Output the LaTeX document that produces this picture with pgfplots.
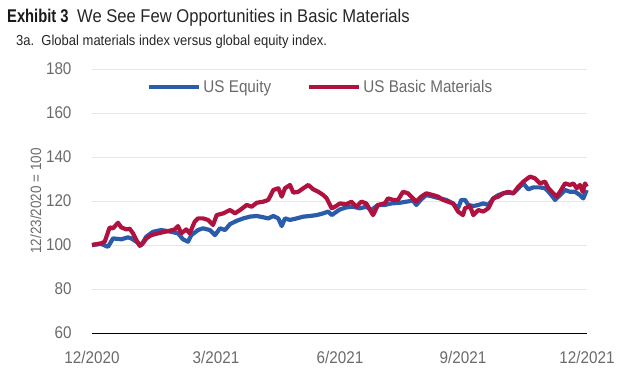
\documentclass[border=0pt]{standalone}
\usepackage{fontspec}
\setmainfont{Liberation Sans}[FakeStretch=0.9]
\newfontfamily\titlebold{Liberation Sans}[FakeStretch=0.8]
\usepackage{pgfplots}
\pgfplotsset{compat=1.18}
\definecolor{eqblue}{HTML}{2A5CAA}
\definecolor{matred}{HTML}{B0123F}
\definecolor{txtgray}{HTML}{6A6A6A}
\definecolor{gridgray}{HTML}{E6E6E6}
\begin{document}
\begin{tikzpicture}[x=1bp,y=1bp]
\useasboundingbox (0,0) rectangle (640,-386);
\node[anchor=base west,inner sep=0,font=\fontsize{18.5}{20}\selectfont\titlebold\bfseries,text=black!90] at (7,-22) {Exhibit 3};
\node[anchor=base west,inner sep=0,font=\fontsize{18.5}{20}\selectfont,text=black!85] at (77,-22) {We See Few Opportunities in Basic Materials};
\node[anchor=base west,inner sep=0,font=\fontsize{14.5}{16}\selectfont,text=black!85] at (16,-45) {3a.\ \ Global materials index versus global equity index.};
\begin{axis}[
  at={(92bp,-333bp)}, anchor=south west,
  scale only axis, width=495bp, height=264bp,
  xmin=0, xmax=495, ymin=60, ymax=180,
  axis line style={draw=none},
  axis x line*=bottom,
  ytick={60,80,...,180},
  xtick={0,124,248,371,495},
  xticklabels={12/2020,3/2021,6/2021,9/2021,12/2021},
  major tick length=0pt,
  ymajorgrids, grid style={gridgray, line width=0.8bp},
  /pgf/number format/assume math mode=true,
  tick label style={font=\fontsize{17}{18}\selectfont, text=txtgray},
  yticklabel style={xshift=-17bp},
  xticklabel style={yshift=-15bp},
  ylabel={12/23/2020 = 100},
  ylabel style={font=\fontsize{15}{16}\selectfont, text=txtgray, yshift=-2bp},
  legend columns=2,
  legend style={at={(0.462,0.932)}, anchor=center, draw=none, fill=none,
    font=\fontsize{17}{18}\selectfont, text=txtgray,
    /tikz/every even column/.append style={column sep=34bp}},
  legend image code/.code={\draw[#1] (0bp,0bp) -- (50bp,0bp);},
  clip=false,
]
\draw[black, line width=1bp] (axis cs:0,60) -- (axis cs:495,60);
\addplot[eqblue, line width=4.2bp, line join=round] coordinates {
(0,100) (9,100.5) (16,99.2) (21,103) (29.3,102.6) (36,103.5) (39.3,103) (44.3,101.5) (49.3,100) (54.3,103.8) (61,106) (69.3,106.8) (79.3,106) (86,105.3) (91,102.6) (96,101.5) (99.3,104.5) (106,106.8) (111,107.6) (118,106.8) (123,104.5) (128,107.6) (133,106.8) (138,109.5) (144.7,111) (151.3,112.1) (158,112.9) (164.7,113.2) (171.3,112.6) (176.3,112.1) (181.3,113.2) (186.3,112.1) (189.7,108.6) (193,112.1) (198,111.4) (204.7,112.1) (211.3,112.9) (218,113.2) (224.7,113.6) (231.3,114.4) (236.3,115.2) (239.7,113.6) (244.7,115.2) (248,116.2) (254.3,117.1) (261,117.4) (267.7,116.7) (274.3,117.4) (279.3,115.9) (286,118.2) (292.7,118.2) (299.3,118.9) (307.7,119.2) (314.3,119.7) (321,120.2) (324.3,118.2) (329.3,120.8) (334.3,122.7) (341,122) (347.7,121.2) (354.3,120.5) (361,118.9) (366,116.7) (369.3,120.5) (373,120.5) (376.3,118.2) (381.3,117.7) (386.3,118.2) (391.3,118.9) (396.3,118.2) (401.3,121.2) (406.3,122.7) (411.3,123.5) (416.3,123.8) (421.3,123.5) (426.3,125.8) (431.3,128) (436.3,125.3) (441.3,126.2) (448,126.2) (453,125.8) (458,123.5) (463,120.5) (468,122.7) (473,125) (478,124.2) (483,124.2) (488,122.7) (491.3,121.2) (494.7,125)
};
\addlegendentry{US Equity}
\addplot[matred, line width=4.2bp, line join=round] coordinates {
(0,100) (9.3,100.8) (12.7,101.5) (17.7,108) (21,107.6) (26,110.1) (29.3,108) (34.3,107.1) (37.7,107.4) (41,105.3) (44.3,102.3) (47.7,99.6) (51,100.8) (54.3,103) (59.3,104.5) (66,105.3) (72.7,106) (77.7,106.5) (82.7,107.1) (86,108.6) (89.3,105.3) (94.3,107.1) (97.7,105.3) (102.7,110.6) (106,112.1) (111,112.1) (116,111.4) (121,109.1) (124.7,113.6) (131.3,114.4) (138,115.9) (143,114.4) (148,115.9) (154.7,118.2) (159.7,117.4) (164.7,119.2) (171.3,119.7) (176.3,120.5) (181.3,125) (186.3,125.8) (189.7,122) (193,125.8) (198,127.3) (201.3,123.8) (206.3,124.2) (211.3,125.8) (216.3,127.3) (221.3,125.3) (226.3,124.2) (231.3,122.7) (234.7,121.2) (238,118.2) (239.7,116.7) (243,117.4) (248,118.9) (254.3,118.5) (259.3,119.7) (264.3,117.4) (269.3,119.7) (274.3,118.9) (281,113.6) (286,118.2) (292.7,118.9) (296,121.2) (301,120.5) (306,120.5) (311,124.2) (316,123.5) (319.3,122) (324.3,119.7) (329.3,122) (334.3,123.5) (341,122.7) (346,122) (351,120.5) (356,119.7) (361,118.9) (366,115.2) (371,113.6) (373,116.7) (378,117.7) (381.3,113.6) (386.3,115.9) (391.3,115.2) (396.3,116.7) (401.3,121.2) (406.3,122) (411.3,123.5) (416.3,124.2) (421.3,123.5) (426.3,126.5) (431.3,128.8) (438,131.1) (443,130.3) (448,128) (453,128.8) (456.3,125.8) (461.3,123.5) (464.7,122) (468,124.2) (473,128) (478,127.3) (481.3,128) (484.7,125.8) (488,127.3) (490.7,124.2) (493,128) (494.7,126.5)
};
\addlegendentry{US Basic Materials}
\end{axis}
\end{tikzpicture}
\end{document}
